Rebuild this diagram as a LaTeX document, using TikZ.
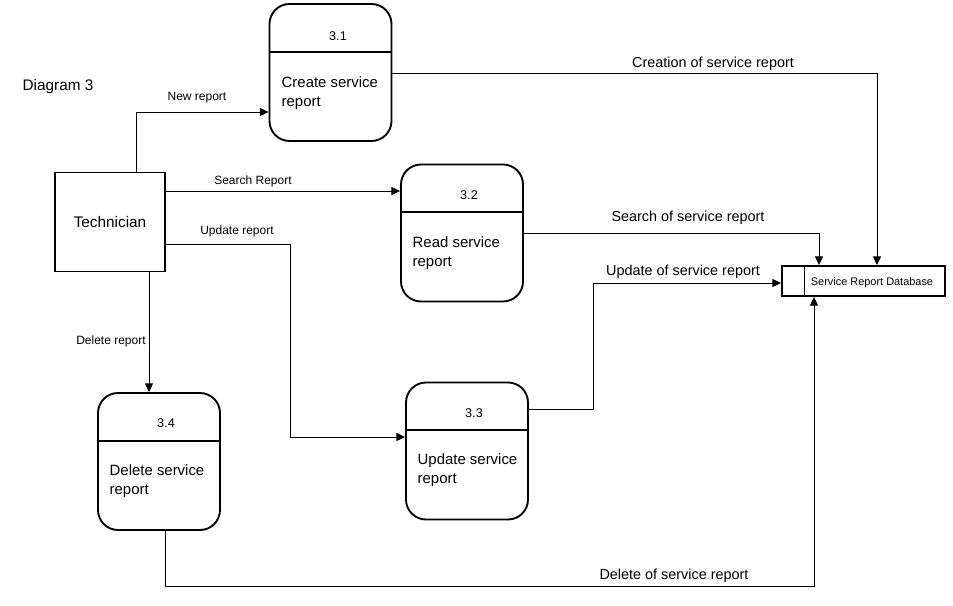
\documentclass[tikz,border=0pt]{standalone}
\usepackage{fontspec}
\setmainfont{Liberation Sans}
\usetikzlibrary{arrows.meta,positioning,calc}
\tikzset{pr/.style={draw,line width=1.4pt,rounded corners=15pt,minimum width=91.5pt,minimum height=102.75pt},
 ent/.style={draw,line width=1.4pt,minimum width=82.5pt,minimum height=74.25pt,font=\fontsize{11.5}{13}\selectfont},
 dbx/.style={draw,line width=1.4pt,minimum width=122.25pt,minimum height=22.5pt},
 num/.style={font=\fontsize{9.5}{11}\selectfont},
 ptxt/.style={anchor=west,align=left,font=\fontsize{11.2}{13.8}\selectfont},
 lab/.style={font=\fontsize{9}{10}\selectfont},
 blab/.style={font=\fontsize{10.8}{12}\selectfont},
 div/.style={line width=1.4pt},
 arr/.style={-{Triangle[length=6.5pt,width=6pt]},line width=.7pt}}

\begin{document}
\begin{tikzpicture}[x=0.75pt,y=-0.75pt]
\useasboundingbox (0,0) rectangle (953,606);
\node[font=\fontsize{11.5}{13}\selectfont] (title) at (58,87) {Diagram 3};
% processes
\node[pr] (p1) at (330.5,72.5) {};
\node[pr] (p2) at (462,233) {};
\node[pr] (p3) at (467,451) {};
\node[pr] (p4) at (159,461.5) {};
\node[num] (n1) at (338,36) {3.1};
\node[num] (n2) at (469,195) {3.2};
\node[num] (n3) at (474,413) {3.3};
\node[num] (n4) at (166,423) {3.4};
\foreach \p/\y in {p1/52,p2/212,p3/430,p4/441}{\draw[div] (\p.west |- 0,\y) -- (\p.east |- 0,\y);}
\node[ptxt] (t1) at (277,93) {Create service\\report};
\node[ptxt] (t2) at (408,253) {Read service\\report};
\node[ptxt] (t3) at (413,470) {Update service\\report};
\node[ptxt] (t4) at (105,481) {Delete service\\report};
% entity and store
\node[ent] (tech) at (110,222) {Technician};
\node[dbx] (db) at (863.5,281) {};
\draw[line width=.7pt] (db.north west) ++(23,0) coordinate (dbl) -- (dbl |- db.south);
\node[font=\fontsize{8.2}{9}\selectfont] (dbt) at (872,283) {Service Report Database};
% flows
\draw[arr] (tech.north -| 136,0) |- (p1.west |- 0,112);
\draw[arr] (tech.east |- 0,191) -- (p2.west |- 0,191);
\draw[arr] (tech.east |- 0,244) -- (290,244) |- (p3.west |- 0,437);
\draw[arr] (tech.south -| 149,0) -- (p4.north -| 149,0);
\draw[arr] (p1.east |- 0,73) -| (db.north -| 877,0);
\draw[arr] (p2.east |- 0,233) -| (db.north -| 819,0);
\draw[arr] (p3.east |- 0,409) -- (593,409) |- (db.west |- 0,283);
\draw[arr] (p4.south -| 165,0) -- (165,586) -| (db.south -| 814,0);
\node[lab] (l1) at (197,98) {New report};
\node[lab] (l2) at (253,181) {Search Report};
\node[lab] (l3) at (237,231) {Update report};
\node[lab] (l4) at (111,341) {Delete report};
\node[blab] (l5) at (713,64) {Creation of service report};
\node[blab] (l6) at (688,218) {Search of service report};
\node[blab] (l7) at (683,272) {Update of service report};
\node[blab] (l8) at (674,576) {Delete of service report};
\end{tikzpicture}
\end{document}
